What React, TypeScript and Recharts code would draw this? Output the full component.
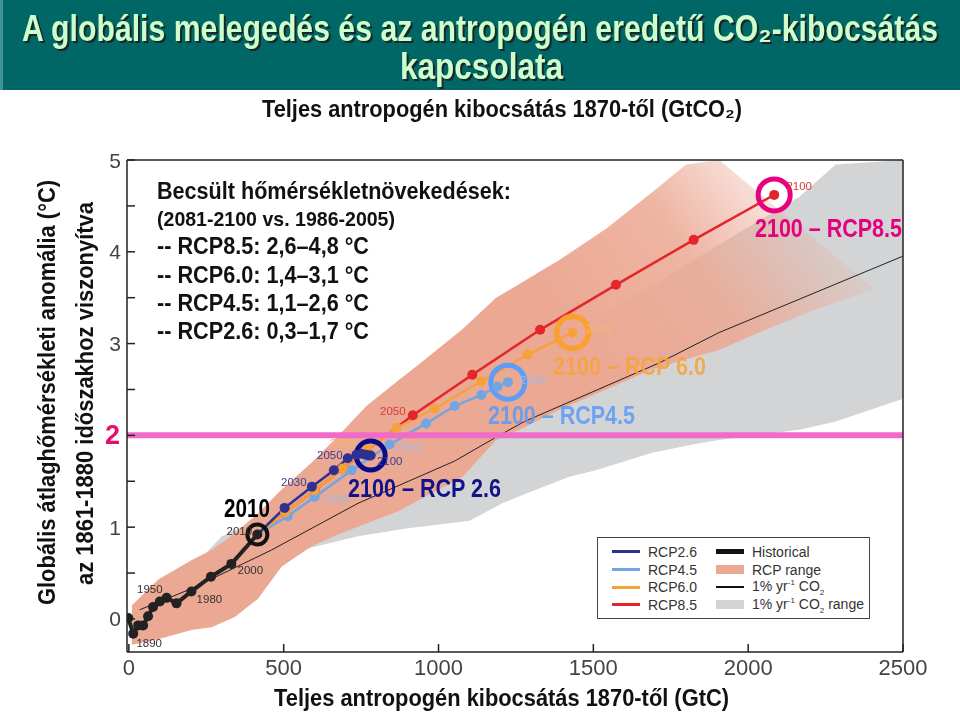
import React from 'react';
import { ComposedChart, Line, Area, XAxis, YAxis, ReferenceLine, ReferenceDot, Legend } from 'recharts';

const FONT = '"Liberation Sans", Arial, Helvetica, sans-serif';

// ---------- axes ----------
const GTC_TO_GTCO2 = 44 / 12;
const xDomain = [-6, 2500];
const yDomain = [-0.36, 5];
const bottomTicks = [0, 500, 1000, 1500, 2000, 2500];
const topTicks = [1000, 2000, 3000, 4000, 5000, 6000, 7000, 8000, 9000];
const topTickLabels = ['1000', '2000', '3000', '4000', '5000', '6000', '7000', '8000', ''];
const yTicks = [0, 0.5, 1, 1.5, 2, 2.5, 3, 3.5, 4, 4.5, 5];
const twoDegreeLimit = 2;

// ---------- series (x = cumulative GtC since 1870, t = °C) ----------
type Pt = { x: number; t: number; year?: string };

const historical: Pt[] = [
  { x: -2, t: 0.01 },
  { x: 14, t: -0.16, year: '1890' },
  { x: 30, t: -0.07 },
  { x: 46, t: -0.07 },
  { x: 62, t: 0.03 },
  { x: 78, t: 0.13 },
  { x: 100, t: 0.19, year: '1950' },
  { x: 122, t: 0.23 },
  { x: 154, t: 0.17 },
  { x: 202, t: 0.3, year: '1980' },
  { x: 265, t: 0.46 },
  { x: 331, t: 0.6, year: '2000' },
  { x: 415, t: 0.92, year: '2010' },
];

const rcp26: Pt[] = [
  { x: 415, t: 0.92, year: '2010' },
  { x: 503, t: 1.21, year: '2020' },
  { x: 591, t: 1.44, year: '2030' },
  { x: 662, t: 1.62, year: '2040' },
  { x: 707, t: 1.75, year: '2050' },
  { x: 735, t: 1.79, year: '2060' },
  { x: 751, t: 1.8, year: '2070' },
  { x: 765, t: 1.79, year: '2080' },
  { x: 775, t: 1.78, year: '2090' },
  { x: 781, t: 1.78, year: '2100' },
];

const rcp45: Pt[] = [
  { x: 415, t: 0.92, year: '2010' },
  { x: 513, t: 1.12, year: '2020' },
  { x: 600, t: 1.33, year: '2030' },
  { x: 720, t: 1.62, year: '2040' },
  { x: 842, t: 1.9, year: '2050' },
  { x: 960, t: 2.13, year: '2060' },
  { x: 1052, t: 2.32, year: '2070' },
  { x: 1138, t: 2.44, year: '2080' },
  { x: 1190, t: 2.53, year: '2090' },
  { x: 1224, t: 2.58, year: '2100' },
];

const rcp60: Pt[] = [
  { x: 415, t: 0.92, year: '2010' },
  { x: 505, t: 1.16, year: '2020' },
  { x: 600, t: 1.4, year: '2030' },
  { x: 690, t: 1.64, year: '2040' },
  { x: 770, t: 1.85, year: '2050' },
  { x: 864, t: 2.08, year: '2060' },
  { x: 987, t: 2.29, year: '2070' },
  { x: 1138, t: 2.59, year: '2080' },
  { x: 1288, t: 2.88, year: '2090' },
  { x: 1433, t: 3.12, year: '2100' },
];

const rcp85: Pt[] = [
  { x: 415, t: 0.92, year: '2010' },
  { x: 505, t: 1.16, year: '2020' },
  { x: 600, t: 1.4, year: '2030' },
  { x: 690, t: 1.64, year: '2040' },
  { x: 917, t: 2.22, year: '2050' },
  { x: 1109, t: 2.66, year: '2060' },
  { x: 1328, t: 3.15, year: '2070' },
  { x: 1573, t: 3.64, year: '2080' },
  { x: 1824, t: 4.13, year: '2090' },
  { x: 2084, t: 4.62, year: '2100' },
];

const onePctCO2: Pt[] = [
  { x: 35, t: 0.1 },
  { x: 202, t: 0.33 },
  { x: 460, t: 0.75 },
  { x: 740, t: 1.26 },
  { x: 1052, t: 1.72 },
  { x: 1191, t: 1.99 },
  { x: 1277, t: 2.15 },
  { x: 1713, t: 2.79 },
  { x: 1906, t: 3.12 },
  { x: 2498, t: 3.95 },
];

// RCP range (salmon band)
const rcpRangeX = [10, 95, 202, 267, 342, 417, 493, 589, 675, 767, 874, 939, 1078, 1186, 1261, 1390, 1541, 1690, 1800, 1906, 2035, 2200, 2400];
const rcpRangeLow = [-0.28, -0.22, -0.12, -0.09, 0.02, 0.22, 0.57, 0.79, 0.92, 1.04, 1.18, 1.3, 1.55, 1.95, 2.06, 2.28, 2.5, 2.72, 2.83, 2.93, 3.12, 3.35, 3.59];
const rcpRangeHigh = [0.15, 0.43, 0.64, 0.75, 0.93, 1.15, 1.41, 1.7, 1.99, 2.32, 2.61, 2.78, 3.16, 3.5, 3.65, 3.91, 4.25, 4.65, 4.95, 5.0, 4.64, 4.18, 3.62];

// 1 % / yr CO2 range (grey band)
const co2RangeX = [250, 300, 417, 471, 557, 740, 906, 955, 1100, 1206, 1294, 1423, 1508, 1690, 1820, 1906, 2165, 2283, 2500];
const co2RangeLow = [0.62, 0.55, 0.5, 0.57, 0.75, 0.9, 0.99, 1.01, 1.07, 1.26, 1.38, 1.55, 1.62, 1.81, 1.9, 1.95, 2.06, 2.15, 2.4];
const co2RangeHigh = [0.72, 0.9, 1.08, 1.2, 1.35, 1.75, 2.25, 2.32, 2.6, 2.78, 2.95, 3.15, 3.3, 3.63, 3.9, 4.08, 4.6, 4.95, 5.0];

const rcpRange = rcpRangeX.map((x, i) => ({ x, range: [rcpRangeLow[i], rcpRangeHigh[i]] }));
const co2Range = co2RangeX.map((x, i) => ({ x, range: [co2RangeLow[i], co2RangeHigh[i]] }));

const legendLeft = ['RCP2.6', 'RCP4.5', 'RCP6.0', 'RCP8.5'];
const legendRight = ['Historical', 'RCP range', '1% yr-1 CO2', '1% yr-1 CO2 range'];

// ---------- styles ----------
const C = {
  navy: '#2e3192',
  lblue: '#72a6e2',
  orange: '#f6a23c',
  red: '#e4262b',
  hist: '#222222',
  salmon: '#eba893',
  grey: '#d3d4d6',
  pink: '#f06cc8',
};

const yearLabelOffsets: Record<string, Record<string, [number, number]>> = {
  hist: { '1890': [16, 9], '1950': [-10, -13], '1980': [18, 8], '2000': [19, 6], '2010': [-18, -4] },
  rcp26: { '2030': [-18, -5], '2050': [-18, -3], '2100': [19, 5] },
  rcp45: { '2030': [21, 2], '2050': [19, 2], '2100': [25, -2] },
  rcp60: { '2050': [-25, -6], '2100': [26, -4] },
  rcp85: { '2050': [-20, -4], '2100': [25, -9] },
};
const yearLabelColors: Record<string, string> = {
  hist: '#333333',
  rcp26: '#3b3b95',
  rcp45: '#9dbbe6',
  rcp60: '#f5b771',
  rcp85: '#d83a3a',
};

function makeDot(series: string, data: Pt[], color: string, r: number, skipFirst: boolean) {
  return (p: any) => {
    const { cx, cy, index } = p;
    const key = `${series}-dot-${index}`;
    if (cx == null || cy == null) return <g key={key} />;
    const year = data[index]?.year;
    const off = year ? yearLabelOffsets[series]?.[year] : undefined;
    return (
      <g key={key}>
        {!(skipFirst && index === 0) && <circle cx={cx} cy={cy} r={r} fill={color} />}
        {off && (
          <text
            x={cx + off[0]}
            y={cy + off[1]}
            fill={yearLabelColors[series]}
            fontSize={11.5}
            fontFamily={FONT}
            textAnchor="middle"
            dominantBaseline="central"
          >
            {year}
          </text>
        )}
      </g>
    );
  };
}

const LeftTick = (props: any) => {
  const { x, y, payload } = props;
  const v = payload.value;
  if (!Number.isInteger(v)) return <g />;
  if (v === twoDegreeLimit) {
    return (
      <text x={x - 1} y={y} textAnchor="end" dominantBaseline="central" fill="#e5106c" fontWeight="bold" fontSize={27} fontFamily={FONT}>
        {v}
      </text>
    );
  }
  return (
    <text x={x} y={y} textAnchor="end" dominantBaseline="central" fill="#444" fontSize={21} fontFamily={FONT}>
      {v}
    </text>
  );
};

const co2Label = (text: string) => {
  if (text.startsWith('1% yr-1 CO2')) {
    const rest = text.replace('1% yr-1 CO2', '');
    return (
      <span>
        1% yr<sup style={{ fontSize: 8 }}>-1</sup> CO<sub style={{ fontSize: 8 }}>2</sub>
        {rest}
      </span>
    );
  }
  return <span>{text}</span>;
};

const LegendBox = () => {
  const sample = (name: string) => {
    const base: React.CSSProperties = { display: 'inline-block', width: 28, marginRight: 8, verticalAlign: 'middle' };
    switch (name) {
      case 'RCP2.6':
        return <span style={{ ...base, height: 3, background: C.navy }} />;
      case 'RCP4.5':
        return <span style={{ ...base, height: 3, background: C.lblue }} />;
      case 'RCP6.0':
        return <span style={{ ...base, height: 3, background: C.orange }} />;
      case 'RCP8.5':
        return <span style={{ ...base, height: 3, background: C.red }} />;
      case 'Historical':
        return <span style={{ ...base, height: 5, background: '#111' }} />;
      case 'RCP range':
        return <span style={{ ...base, height: 9, background: C.salmon }} />;
      case '1% yr-1 CO2':
        return <span style={{ ...base, height: 1.5, background: '#111' }} />;
      default:
        return <span style={{ ...base, height: 9, background: C.grey }} />;
    }
  };
  const row = (name: string) => (
    <div key={name} style={{ height: 17.7, display: 'flex', alignItems: 'center', whiteSpace: 'nowrap' }}>
      {sample(name)}
      {co2Label(name)}
    </div>
  );
  return (
    <div
      style={{
        boxSizing: 'border-box',
        width: 273,
        height: 82,
        border: '1.5px solid #444',
        background: '#fff',
        fontFamily: FONT,
        fontSize: 14,
        color: '#333',
        display: 'flex',
        padding: '5px 0 0 14px',
      }}
    >
      <div style={{ width: 104 }}>{legendLeft.map(row)}</div>
      <div>{legendRight.map(row)}</div>
    </div>
  );
};

const SvgText = ({ x, y, w, size, color, children, weight = 'bold', style }: any) => (
  <text
    x={x}
    y={y}
    fontSize={size}
    fill={color}
    fontWeight={weight}
    fontFamily={FONT}
    textLength={w}
    lengthAdjust="spacingAndGlyphs"
    style={style}
  >
    {children}
  </text>
);

const titleShadow = { filter: 'drop-shadow(2px 2px 0px #1b2626)' };

export default function App() {
  return (
    <div style={{ position: 'absolute', left: 0, top: 0, width: 960, height: 715, background: '#fff', overflow: 'hidden' }}>
      <style>{`.rcp-range .recharts-area-area { mix-blend-mode: multiply; }`}</style>
      <div style={{ position: 'absolute', left: 0, top: 0 }}>
        <ComposedChart width={960} height={715} margin={{ top: 130, right: 50, bottom: 33, left: 100 }}>
          <defs>
            <linearGradient id="salmonFade" gradientUnits="userSpaceOnUse" x1="560" y1="330" x2="780" y2="170">
              <stop offset="0" stopColor={C.salmon} stopOpacity={1} />
              <stop offset="0.55" stopColor={C.salmon} stopOpacity={0.85} />
              <stop offset="1" stopColor={C.salmon} stopOpacity={0.2} />
            </linearGradient>
          </defs>
          <XAxis
            xAxisId="b"
            dataKey="x"
            type="number"
            domain={xDomain}
            ticks={bottomTicks}
            allowDataOverflow
            height={30}
            tickSize={-8}
            tickMargin={15}
            stroke="#222"
            strokeWidth={1.5}
            tick={{ fill: '#444', fontSize: 22, fontFamily: FONT }}
          />
          <XAxis
            xAxisId="top"
            orientation="top"
            type="number"
            domain={[xDomain[0] * GTC_TO_GTCO2, xDomain[1] * GTC_TO_GTCO2]}
            ticks={topTicks}
            allowDataOverflow
            height={30}
            tickSize={-8}
            tickMargin={20}
            stroke="#222"
            strokeWidth={1.5}
            tickFormatter={(v: number) => topTickLabels[topTicks.indexOf(v)] ?? ''}
            tick={{ fill: '#444', fontSize: 20, fontFamily: FONT }}
          />
          <YAxis
            yAxisId="l"
            type="number"
            domain={yDomain}
            ticks={yTicks}
            allowDataOverflow
            width={27}
            tickSize={-8}
            tickMargin={14}
            stroke="#222"
            strokeWidth={1.5}
            tick={<LeftTick />}
          />
          <YAxis
            yAxisId="r"
            orientation="right"
            type="number"
            domain={yDomain}
            ticks={yTicks}
            allowDataOverflow
            width={7}
            tickSize={-8}
            stroke="#222"
            strokeWidth={1.5}
            tick={false}
          />
          <Area
            xAxisId="b"
            yAxisId="l"
            data={co2Range}
            dataKey="range"
            type="linear"
            fill={C.grey}
            fillOpacity={1}
            stroke="none"
            isAnimationActive={false}
            activeDot={false}
          />
          <Area
            className="rcp-range"
            xAxisId="b"
            yAxisId="l"
            data={rcpRange}
            dataKey="range"
            type="linear"
            fill="url(#salmonFade)"
            fillOpacity={1}
            stroke="none"
            isAnimationActive={false}
            activeDot={false}
          />
          <Line
            xAxisId="b"
            yAxisId="l"
            data={onePctCO2}
            dataKey="t"
            type="linear"
            stroke="#222"
            strokeWidth={1}
            dot={false}
            activeDot={false}
            isAnimationActive={false}
          />
          <Line
            xAxisId="b"
            yAxisId="l"
            data={rcp85}
            dataKey="t"
            type="linear"
            stroke={C.red}
            strokeWidth={2.5}
            dot={makeDot('rcp85', rcp85, C.red, 5, true)}
            activeDot={false}
            isAnimationActive={false}
          />
          <Line
            xAxisId="b"
            yAxisId="l"
            data={rcp45}
            dataKey="t"
            type="linear"
            stroke={C.lblue}
            strokeWidth={2.5}
            dot={makeDot('rcp45', rcp45, C.lblue, 5, true)}
            activeDot={false}
            isAnimationActive={false}
          />
          <Line
            xAxisId="b"
            yAxisId="l"
            data={rcp60}
            dataKey="t"
            type="linear"
            stroke={C.orange}
            strokeWidth={2.5}
            dot={makeDot('rcp60', rcp60, C.orange, 5, true)}
            activeDot={false}
            isAnimationActive={false}
          />
          <Line
            xAxisId="b"
            yAxisId="l"
            data={rcp26}
            dataKey="t"
            type="linear"
            stroke={C.navy}
            strokeWidth={2.5}
            dot={makeDot('rcp26', rcp26, C.navy, 5, true)}
            activeDot={false}
            isAnimationActive={false}
          />
          <Line
            xAxisId="b"
            yAxisId="l"
            data={historical}
            dataKey="t"
            type="linear"
            stroke={C.hist}
            strokeWidth={4}
            dot={makeDot('hist', historical, C.hist, 5, false)}
            activeDot={false}
            isAnimationActive={false}
          />
          <ReferenceLine xAxisId="b" yAxisId="l" y={twoDegreeLimit} stroke={C.pink} strokeWidth={6} />
          <ReferenceDot xAxisId="b" yAxisId="l" x={historical[historical.length - 1].x} y={historical[historical.length - 1].t} r={10} fill="none" stroke="#111" strokeWidth={4} />
          <ReferenceDot xAxisId="b" yAxisId="l" x={rcp26[rcp26.length - 1].x} y={rcp26[rcp26.length - 1].t} r={14.5} fill="none" stroke="#0a0a8c" strokeWidth={5} />
          <ReferenceDot xAxisId="b" yAxisId="l" x={rcp45[rcp45.length - 1].x} y={rcp45[rcp45.length - 1].t} r={17} fill="none" stroke="#5d9cf7" strokeWidth={5} />
          <ReferenceDot xAxisId="b" yAxisId="l" x={rcp60[rcp60.length - 1].x} y={rcp60[rcp60.length - 1].t} r={16} fill="none" stroke="#f9a030" strokeWidth={5.5} />
          <ReferenceDot xAxisId="b" yAxisId="l" x={rcp85[rcp85.length - 1].x} y={rcp85[rcp85.length - 1].t} r={16} fill="none" stroke="#e8007f" strokeWidth={5} />
          <Legend
            layout="horizontal"
            verticalAlign="middle"
            align="center"
            content={<LegendBox />}
            wrapperStyle={{ position: 'absolute', left: 597, top: 537, width: 273, height: 82 }}
          />
        </ComposedChart>
      </div>

      <svg width={960} height={715} style={{ position: 'absolute', left: 0, top: 0, pointerEvents: 'none' }}>
        {/* banner */}
        <rect x={0} y={0} width={960} height={90} fill="#006666" />
        <rect x={0} y={0} width={3} height={90} fill="#3f9393" />
        <SvgText x={22} y={41} w={916} size={36} color="#ccffcc" style={titleShadow}>
          A globális melegedés és az antropogén eredetű CO₂-kibocsátás
        </SvgText>
        <SvgText x={400} y={79} w={163} size={37} color="#ccffcc" style={titleShadow}>kapcsolata</SvgText>

        {/* top axis title */}
        <SvgText x={262} y={117} w={480} size={23} color="#111">
          Teljes antropogén kibocsátás 1870-től (GtCO₂)
        </SvgText>

        {/* y axis titles */}
        <g transform="translate(55,605) rotate(-90)">
          <SvgText x={0} y={0} w={425} size={23} color="#111">Globális átlaghőmérsékleti anomália (°C)</SvgText>
        </g>
        <g transform="translate(93,585) rotate(-90)">
          <SvgText x={0} y={0} w={383} size={23} color="#111">az 1861-1880 időszakhoz viszonyítva</SvgText>
        </g>

        {/* text block */}
        <SvgText x={157} y={199} w={354} size={23} color="#111">Becsült hőmérsékletnövekedések:</SvgText>
        <SvgText x={157} y={226} w={238} size={21} color="#111">(2081-2100 vs. 1986-2005)</SvgText>
        <SvgText x={157} y={254} w={212} size={23} color="#111">-- RCP8.5: 2,6–4,8 °C</SvgText>
        <SvgText x={157} y={283} w={212} size={23} color="#111">-- RCP6.0: 1,4–3,1 °C</SvgText>
        <SvgText x={157} y={311} w={212} size={23} color="#111">-- RCP4.5: 1,1–2,6 °C</SvgText>
        <SvgText x={157} y={339} w={212} size={23} color="#111">-- RCP2.6: 0,3–1,7 °C</SvgText>

        {/* annotations */}
        <SvgText x={755} y={237} w={147} size={25} color="#e5007d">2100 – RCP8.5</SvgText>
        <g opacity={0.85}>
          <SvgText x={553} y={375} w={153} size={25} color="#f7a43b">2100 – RCP 6.0</SvgText>
          <SvgText x={488} y={424} w={147} size={25} color="#5b9bf5">2100 – RCP4.5</SvgText>
        </g>
        <SvgText x={348} y={497} w={153} size={25} color="#12128a">2100 – RCP 2.6</SvgText>
        <SvgText x={224} y={517} w={46} size={25} color="#000">2010</SvgText>

        {/* bottom axis title */}
        <SvgText x={274} y={706} w={455} size={23} color="#111">Teljes antropogén kibocsátás 1870-től (GtC)</SvgText>
      </svg>
    </div>
  );
}
